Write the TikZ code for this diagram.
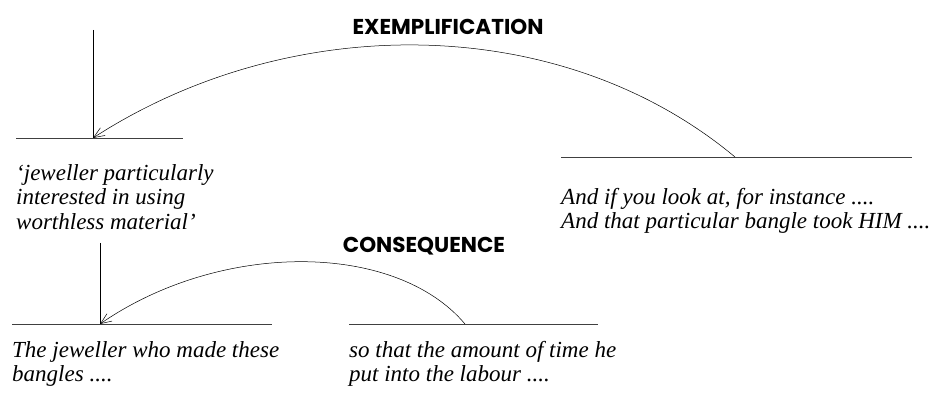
\documentclass[tikz,border=0pt]{standalone}
\usepackage{fontspec}
\setmainfont{Liberation Serif}
\setsansfont{Poppins}
\usetikzlibrary{arrows.meta}
\begin{document}
\begin{tikzpicture}
  [
    x=1pt, y=-1pt,
    quote/.style={anchor=north west,inner sep=0pt,align=left,font=\itshape\fontsize{23}{24.5}\selectfont},
    relation/.style={inner sep=0pt,font=\sffamily\bfseries\fontsize{21.5}{24}\selectfont},
    unitline/.style={draw=black!75,line width=0.7pt},
    stem/.style={draw=black,line width=0.7pt},
    link/.style={draw,line width=0.5pt,-{Straight Barb[length=11pt,width=9pt]}},
  ]
  \useasboundingbox (0,0) rectangle (936,395);
  % upper level
  \coordinate (jewel left)  at ( 16,138);
  \coordinate (jewel right) at (183,138);
  \coordinate (jewel foot)  at ( 93,138);
  \coordinate (jewel top)   at ( 93, 30);
  \coordinate (look left)   at (561,157);
  \coordinate (look right)  at (912,157);
  \coordinate (look start)  at (735,157);
  \draw[unitline] (jewel left) -- (jewel right);
  \draw[stem]     (jewel top) -- (jewel foot);
  \draw[unitline] (look left) -- (look right);
  \node[quote] (jeweller) at (16,164) {`jeweller particularly\\interested in using\\worthless material'};
  \node[quote] (look)     at (561,188) {And if you look at, for instance ....\\And that particular bangle took HIM ....};
  \node[relation] (exemplification) at (448,27) {EXEMPLIFICATION};
  \draw[link] (look start) .. controls (560,11) and (289,11) .. (jewel foot);
  % lower level
  \coordinate (maker left)  at ( 12,324);
  \coordinate (maker right) at (272,324);
  \coordinate (maker foot)  at (100,324);
  \coordinate (maker top)   at (100,243);
  \coordinate (time left)   at (349,324);
  \coordinate (time right)  at (598,324);
  \coordinate (time start)  at (465,324);
  \draw[unitline] (maker left) -- (maker right);
  \draw[stem]     (maker top) -- (maker foot);
  \draw[unitline] (time left) -- (time right);
  \node[quote] (maker) at (12,341)  {The jeweller who made these\\bangles ....};
  \node[quote] (time)  at (349,341) {so that the amount of time he\\put into the labour ....};
  \node[relation] (consequence) at (424,246) {CONSEQUENCE};
  \draw[link] (time start) .. controls (395,241) and (220,241) .. (maker foot);
\end{tikzpicture}
\end{document}
